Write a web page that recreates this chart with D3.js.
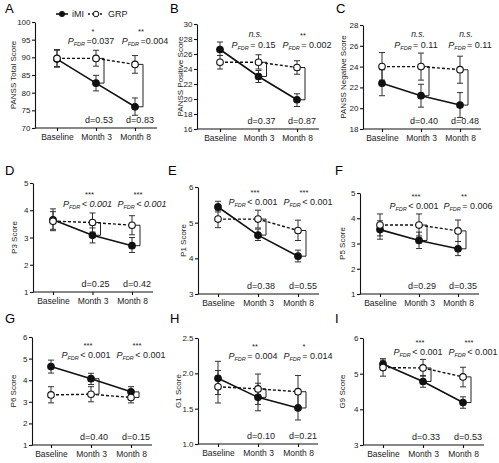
<!DOCTYPE html>
<html><head><meta charset="utf-8">
<script src="https://cdn.jsdelivr.net/npm/d3@7"></script>
<style>
body{margin:0;background:#fff}
svg{display:block;font-family:"Liberation Sans",Arial,sans-serif}
</style>
</head><body><svg id="c" width="499" height="463"></svg>
<script>
// ---------- data ----------
const categories = ["Baseline", "Month 3", "Month 8"];
const panelIds = ["A","B","C","D","E","F","G","H","I"];
const yLabels = ["PANSS Total Score","PANSS Positive Score","PANSS Negative Score","P3 Score","P1 Score","P5 Score","P6 Score","G1 Score","G9 Score"];
const yDomains = [[70,100],[16,30],[18,28],[1,5],[3,6],[1,5],[1,6],[1.0,2.5],[3,6]];
const yTicks = [
  [70,75,80,85,90,95,100],[16,18,20,22,24,26,28,30],[18,20,22,24,26,28],
  [1,2,3,4,5],[3,4,5,6],[1,2,3,4,5],[1,2,3,4,5,6],[1.0,1.5,2.0,2.5],[3,4,5,6]
];
const yTickDecimals = [0,0,0,0,0,0,0,1,0];

const iMIMean = [[89.5,82.7,76.0],[26.6,23.0,19.9],[22.4,21.2,20.3],[3.65,3.08,2.70],[5.44,4.65,4.06],[3.55,3.12,2.79],[4.63,4.07,3.46],[1.93,1.66,1.51],[5.27,4.78,4.19]];
const iMILow  = [[87.2,80.5,73.6],[25.8,22.2,19.0],[21.2,20.1,19.1],[3.30,2.80,2.45],[5.30,4.50,3.90],[3.17,2.80,2.52],[4.33,3.80,3.25],[1.70,1.47,1.34],[5.10,4.62,4.03]];
const iMIHigh = [[92.2,84.9,78.5],[27.6,23.8,20.7],[23.7,22.3,21.5],[4.05,3.35,3.00],[5.60,4.82,4.23],[3.90,3.45,3.08],[4.93,4.32,3.70],[2.17,1.86,1.72],[5.42,4.95,4.35]];
const grpMean = [[89.7,89.7,88.0],[24.9,24.9,24.2],[24.0,24.0,23.7],[3.60,3.55,3.45],[5.10,5.10,4.78],[3.73,3.73,3.50],[3.32,3.35,3.20],[1.81,1.78,1.74],[5.17,5.16,4.91]];
const grpLow  = [[87.4,87.5,85.5],[24.0,24.0,23.3],[22.7,22.7,22.4],[3.25,3.20,3.10],[4.86,4.85,4.50],[3.30,3.30,3.08],[2.95,3.00,2.95],[1.58,1.56,1.51],[4.93,4.93,4.63]];
const grpHigh = [[92.0,92.0,90.5],[25.8,25.9,25.1],[25.35,25.3,25.0],[3.95,3.90,3.80],[5.35,5.35,5.07],[4.17,4.17,3.93],[3.70,3.70,3.45],[2.04,1.99,1.97],[5.38,5.40,5.18]];

const sigMarks = [["*","**"],["n.s.","**"],["n.s.","n.s."],["***","***"],["***","***"],["***","**"],["***","***"],["**","*"],["***","***"]];
const pTexts = [["=0.037","=0.004"],["= 0.15","= 0.002"],["= 0.11","= 0.11"],["< 0.001","< 0.001"],["< 0.001","< 0.001"],["< 0.001","= 0.006"],["< 0.001","< 0.001"],["= 0.004","= 0.014"],["< 0.001","< 0.001"]];
const pItalic = [false,false,false,true,false,false,false,false,false];
const dTexts = [["d=0.53","d=0.83"],["d=0.37","d=0.87"],["d=0.40","d=0.48"],["d=0.25","d=0.42"],["d=0.38","d=0.55"],["d=0.29","d=0.35"],["d=0.40","d=0.15"],["d=0.10","d=0.21"],["d=0.33","d=0.53"]];
const legendLabels = ["iMI","GRP"];

// ---------- layout ----------
// [axisX, top, bottom, xFirst, xLast, xEnd, labelX, letterX, letterY, pY]
const layout = [
  [35,22,128,57,135,157,13,5,13,44],
  [197,24,129,220,297,319,180,170,13,48],
  [363,25,129,382,460,481,343,336,13,48],
  [33,183,292,53,132,153,14,5,175,207],
  [198,187,294,218,298,319,183,168,175,205],
  [360,193,294,380,458,479,342,335,175,209],
  [32,337,445,51,131,152,13,5,323,358],
  [198,338,444,218,298,318,178,170,323,359],
  [363,338,445,383,463,484,342,335,323,355]
];

const svg = d3.select("#c");

panelIds.forEach((id, i) => {
  const [ax, top, bottom, x0, x2, xEnd, labX, letX, letY, pY] = layout[i];
  const g = svg.append("g");
  const x = d3.scalePoint().domain(categories).range([x0, x2]);
  const y = d3.scaleLinear().domain(yDomains[i]).range([bottom, top]);

  // letter
  g.append("text").attr("x", letX).attr("y", letY).attr("font-size", 13).text(id);

  // y axis
  const dec = yTickDecimals[i];
  const ya = g.append("g").attr("transform", `translate(${ax},0)`)
    .call(d3.axisLeft(y).tickValues(yTicks[i]).tickSize(3).tickSizeOuter(0).tickPadding(1.5)
      .tickFormat(v => v.toFixed(dec)));
  ya.selectAll("text").attr("font-size", 8).attr("font-family", "Liberation Sans, Arial, sans-serif").attr("fill","#222");
  ya.selectAll("line,path").attr("stroke", "#111").attr("stroke-width", 1.1);

  // x axis
  const xa = g.append("g").attr("transform", `translate(0,${bottom})`)
    .call(d3.axisBottom(x).tickSize(3).tickSizeOuter(0).tickPadding(3));
  xa.select(".domain").remove();
  xa.selectAll("text").attr("font-size", 8.5).attr("font-family", "Liberation Sans, Arial, sans-serif").attr("fill","#222");
  xa.selectAll("line").attr("stroke", "#111").attr("stroke-width", 1.1);
  g.append("line").attr("x1", ax).attr("x2", xEnd).attr("y1", bottom).attr("y2", bottom)
    .attr("stroke", "#111").attr("stroke-width", 1.2);

  // y label
  g.append("text").attr("transform", `translate(${labX},${(top + bottom) / 2}) rotate(-90)`)
    .attr("text-anchor", "middle").attr("dy", "0.35em").attr("font-size", 8).attr("fill","#222").text(yLabels[i]);

  const series = [
    {mean: iMIMean[i], lo: iMILow[i], hi: iMIHigh[i], filled: true},
    {mean: grpMean[i], lo: grpLow[i], hi: grpHigh[i], filled: false}
  ];

  // brackets (between group means at month 3 & 8)
  [1, 2].forEach(k => {
    const bx = x(categories[k]) + 8;
    const ya1 = y(grpMean[i][k]), yb1 = y(iMIMean[i][k]);
    g.append("path")
      .attr("d", `M${bx - 5},${ya1}H${bx}V${yb1}H${bx - 5}`)
      .attr("fill", "none").attr("stroke", "#222").attr("stroke-width", 1);
  });

  series.forEach(s => {
    categories.forEach((c, k) => {
      const cx = x(c);
      g.append("line").attr("x1", cx).attr("x2", cx).attr("y1", y(s.lo[k])).attr("y2", y(s.hi[k]))
        .attr("stroke", "#333").attr("stroke-width", 1);
      [s.lo[k], s.hi[k]].forEach(v => {
        g.append("line").attr("x1", cx - 3).attr("x2", cx + 3).attr("y1", y(v)).attr("y2", y(v))
          .attr("stroke", "#333").attr("stroke-width", 1);
      });
    });
  });

  series.forEach(s => {
    const line = d3.line().x((d, k) => x(categories[k])).y(d => y(d));
    g.append("path").attr("d", line(s.mean)).attr("fill", "none").attr("stroke", "#111")
      .attr("stroke-width", s.filled ? 1.6 : 1.4).attr("stroke-dasharray", s.filled ? null : "3,2");
  });

  series.forEach(s => {
    g.selectAll(null).data(s.mean).join("circle")
      .attr("cx", (d, k) => x(categories[k])).attr("cy", d => y(d)).attr("r", 3.3)
      .attr("fill", s.filled ? "#111" : "#fff").attr("stroke", "#111").attr("stroke-width", 1.1);
  });

  // annotations
  [1, 2].forEach((k, j) => {
    const cx = x(categories[k]);
    const mark = sigMarks[i][j];
    const isNS = mark === "n.s.";
    g.append("text").attr("x", cx + (j === 0 ? -3 : 6)).attr("y", isNS ? pY - 11 : pY - 9.6)
      .attr("text-anchor", "middle").attr("font-size", isNS ? 8.5 : 7.5)
      .attr("font-style", isNS ? "italic" : "normal").attr("fill", "#222").text(mark);

    const t = g.append("text").attr("x", cx + (j === 0 ? -5 : 10)).attr("y", pY)
      .attr("text-anchor", "middle").attr("font-size", 9).attr("fill", "#222");
    t.append("tspan").attr("font-style", "italic").text("P");
    t.append("tspan").attr("font-style", "italic").attr("font-size", 5.5).attr("dy", 2).text("FDR");
    t.append("tspan").attr("dy", -2).attr("dx", 1.5).attr("font-style", pItalic[i] ? "italic" : "normal").text(pTexts[i][j]);

    g.append("text").attr("x", cx + (j === 0 ? 3 : 5)).attr("y", bottom - 5)
      .attr("text-anchor", "middle").attr("font-size", 9).attr("fill", "#222").text(dTexts[i][j]);
  });
});

// legend
const lg = svg.append("g");
lg.append("line").attr("x1", 56).attr("x2", 68).attr("y1", 14).attr("y2", 14).attr("stroke", "#111").attr("stroke-width", 1.6);
lg.append("circle").attr("cx", 62).attr("cy", 14).attr("r", 3).attr("fill", "#111");
lg.append("text").attr("x", 72).attr("y", 17).attr("font-size", 9).attr("fill", "#222").text(legendLabels[0]);
lg.append("line").attr("x1", 88).attr("x2", 104).attr("y1", 14).attr("y2", 14).attr("stroke", "#111").attr("stroke-width", 1.3).attr("stroke-dasharray", "2,2");
lg.append("circle").attr("cx", 96).attr("cy", 14).attr("r", 2.8).attr("fill", "#fff").attr("stroke", "#111").attr("stroke-width", 1);
lg.append("text").attr("x", 108).attr("y", 17).attr("font-size", 9).attr("fill", "#222").text(legendLabels[1]);
</script></body></html>
